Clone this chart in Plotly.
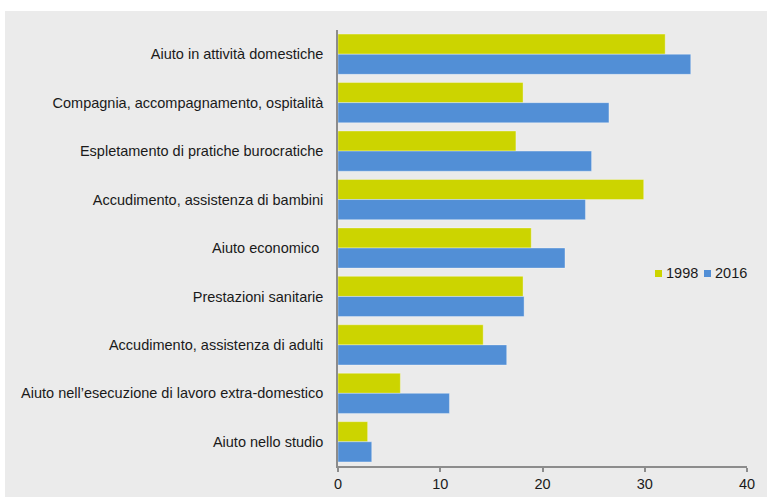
import plotly.graph_objects as go

categories = [
    "Aiuto in attività domestiche",
    "Compagnia, accompagnamento, ospitalità",
    "Espletamento di pratiche burocratiche",
    "Accudimento, assistenza di bambini",
    "Aiuto economico ",
    "Prestazioni sanitarie",
    "Accudimento, assistenza di adulti",
    "Aiuto nell’esecuzione di lavoro extra-domestico",
    "Aiuto nello studio",
]
values_1998 = [32.0, 18.1, 17.4, 29.9, 18.9, 18.1, 14.2, 6.1, 2.9]
values_2016 = [34.5, 26.5, 24.8, 24.2, 22.2, 18.2, 16.5, 10.9, 3.3]
x_ticks = [0, 10, 20, 30, 40]
series_names = ["1998", "2016"]
series_colors = ["#CCD400", "#528FD6"]

W, H = 768, 498
ml, mr, mt, mb = 338, 21, 30, 32
pw, ph = W - ml - mr, H - mt - mb
FS = 14.5


def px_x(x):
    return (x - ml) / pw


def px_y(y):
    return (H - mb - y) / ph


fig = go.Figure()
for name, vals, col in zip(series_names, [values_1998, values_2016], series_colors):
    fig.add_trace(go.Bar(
        y=categories, x=vals, name=name, orientation="h", showlegend=False,
        marker=dict(color=col, line=dict(color="rgba(255,255,255,0.35)", width=1)),
    ))

# grey panel behind the chart (with thin white border like the reference)
fig.add_shape(type="rect", xref="paper", yref="paper",
              x0=px_x(5), x1=px_x(767), y0=px_y(497), y1=px_y(11),
              fillcolor="#EBEBEB", line=dict(width=0), layer="below")

# legend (compact, like the reference)
legend_pos = [(655, 664), (704, 713)]
for (sx, tx), name, col in zip(legend_pos, series_names, series_colors):
    fig.add_shape(type="rect", xref="paper", yref="paper",
                  x0=px_x(sx), x1=px_x(sx + 7), y0=px_y(277), y1=px_y(270),
                  fillcolor=col, line=dict(width=0))
    fig.add_annotation(x=px_x(tx), y=px_y(273), xref="paper", yref="paper",
                       text=name, showarrow=False, xanchor="left", yanchor="middle",
                       font=dict(size=FS, color="#1a1a1a"))

fig.update_layout(
    width=W, height=H,
    margin=dict(l=ml, r=mr, t=mt, b=mb, pad=0, autoexpand=False),
    paper_bgcolor="white", plot_bgcolor="rgba(0,0,0,0)",
    barmode="group", bargap=0.17, bargroupgap=0,
    font=dict(family="Liberation Sans, Arial, sans-serif", size=FS, color="#1a1a1a"),
    showlegend=False,
    xaxis=dict(range=[0, 40], tickvals=x_ticks, showgrid=False, zeroline=False,
               showline=True, linecolor="#8C8C8C", linewidth=1.5,
               ticks="outside", ticklen=4, tickcolor="#8C8C8C", tickwidth=1.5,
               tickfont=dict(size=FS), automargin=False, fixedrange=True),
    yaxis=dict(autorange="reversed", showgrid=False, zeroline=False,
               showline=True, linecolor="#8C8C8C", linewidth=1.5,
               ticks="", ticklabelstandoff=10, tickfont=dict(size=FS),
               automargin=False, fixedrange=True),
)

fig.write_html(
    "out.html",
    config={"displayModeBar": False},
    post_script="document.body.style.margin='0';document.body.style.padding='0';"
                "document.documentElement.style.overflow='hidden';",
)
